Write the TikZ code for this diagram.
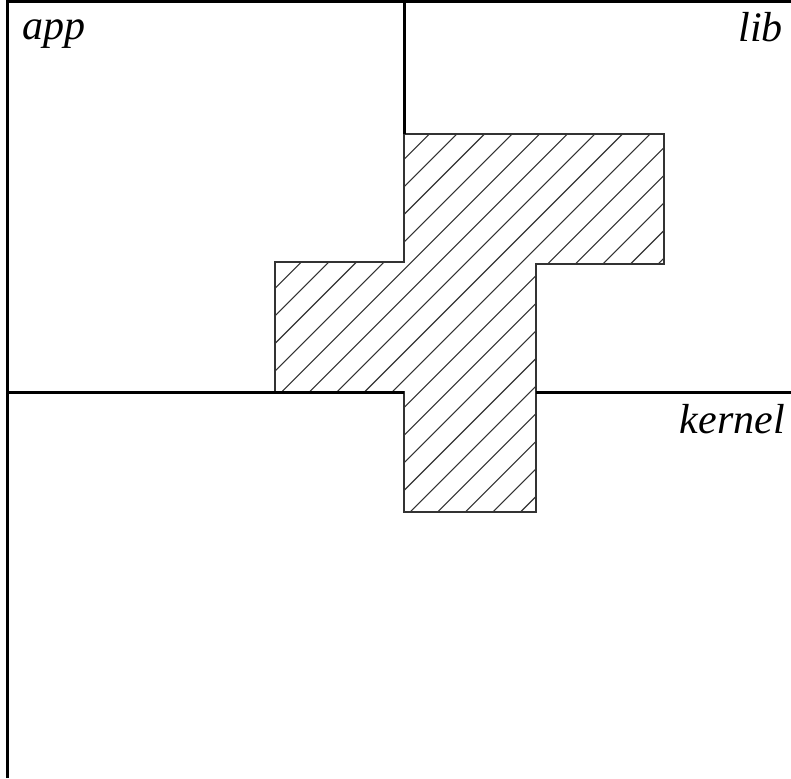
\documentclass[tikz,border=0pt]{standalone}
\usepackage{fontspec}
\setmainfont{Liberation Serif}
\begin{document}
\begin{tikzpicture}[x=1pt,y=-1pt,
  thick line/.style={line width=3pt,black},
  shape edge/.style={line width=1.1pt,black!80},
  hatch/.style={line width=1.1pt,black!80},
  label/.style={font=\itshape\fontsize{42}{46}\selectfont,inner sep=0pt}]
\useasboundingbox (0,0) rectangle (791,778);
% hatched region
\coordinate (p1) at (404,134);
\coordinate (p2) at (664,134);
\coordinate (p3) at (664,264);
\coordinate (p4) at (536,264);
\coordinate (p5) at (536,512);
\coordinate (p6) at (404,512);
\coordinate (p7) at (404,392);
\coordinate (p8) at (275,392);
\coordinate (p9) at (275,262);
\coordinate (p10) at (404,262);
\begin{scope}
\clip (p1) -- (p2) -- (p3) -- (p4) -- (p5) -- (p6) -- (p7) -- (p8) -- (p9) -- (p10) -- cycle;
\foreach \k in {-10,...,30} {
  \pgfmathsetmacro{\c}{563.3+27.6*\k}
  \draw[hatch] (\c-800,800) -- (\c,0);
}
\end{scope}
\draw[shape edge] (p1) -- (p2) -- (p3) -- (p4) -- (p5) -- (p6) -- (p7) -- (p8) -- (p9) -- (p10) -- cycle;
% frame and dividers
\coordinate (tl) at (7,2);
\coordinate (tr) at (791,2);
\coordinate (bl) at (7,778);
\coordinate (ml) at (7,392);
\coordinate (mr) at (791,392);
\coordinate (m2) at (536,392);
\draw[thick line] (bl) -- (tl) -- (tr);
\draw[thick line] (404,2) -- (p1);
\draw[thick line] (ml) -- (p7);
\draw[thick line] (m2) -- (mr);
% labels
\node[label,anchor=base west] (app) at (22,40) {app};
\node[label,anchor=base east] (lib) at (783,42) {lib};
\node[label,anchor=base east] (kernel) at (785,433) {kernel};
\end{tikzpicture}
\end{document}
